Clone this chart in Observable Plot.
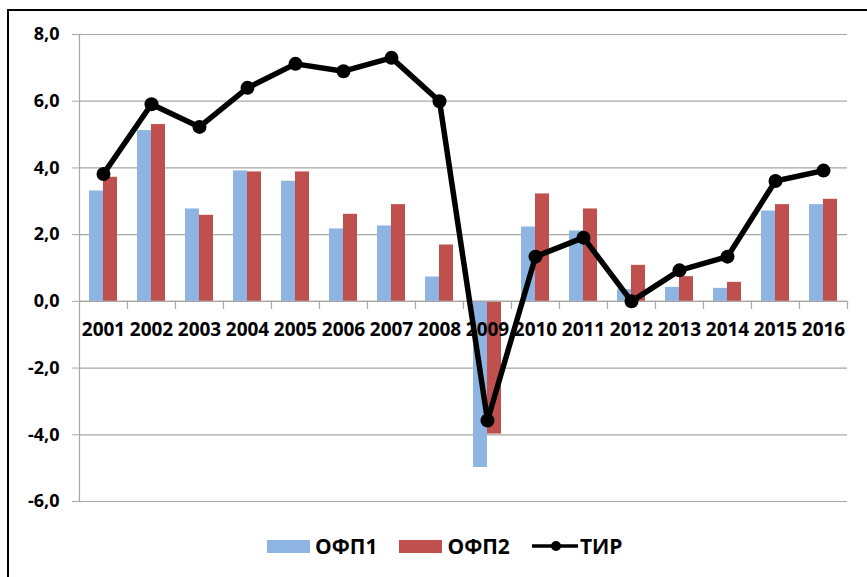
<!DOCTYPE html>
<html><head><meta charset="utf-8">
<script src="https://cdn.jsdelivr.net/npm/d3@7"></script>
<script src="https://cdn.jsdelivr.net/npm/@observablehq/plot@0.6"></script>
<style>
body{margin:0;background:#fff;}
#wrap{position:relative;width:867px;height:577px;overflow:hidden;font-family:"Open Sans",sans-serif;background:#fff;}
#border{position:absolute;left:7px;top:9px;width:880px;height:600px;border-left:2.5px solid #000;border-top:2.5px solid #000;pointer-events:none;}
#chart{position:absolute;left:0;top:0;}
#legend{position:absolute;left:267px;top:532px;display:flex;align-items:center;font-size:21px;font-weight:700;color:#000;}
.item{display:flex;align-items:center;margin-right:22px;}
.sw{width:43px;height:13px;margin-right:5px;}
</style></head>
<body><div id="wrap"><div id="chart"></div><div id="legend"></div><div id="border"></div></div>
<script>
const years = ["2001","2002","2003","2004","2005","2006","2007","2008","2009","2010","2011","2012","2013","2014","2015","2016"];
const ofp1 = [3.31, 5.12, 2.77, 3.91, 3.60, 2.17, 2.26, 0.73, -4.98, 2.23, 2.11, 0.35, 0.42, 0.39, 2.71, 2.90];
const ofp2 = [3.72, 5.30, 2.58, 3.88, 3.88, 2.61, 2.90, 1.69, -3.98, 3.22, 2.77, 1.08, 0.74, 0.57, 2.90, 3.06];
const tir  = [3.82, 5.91, 5.23, 6.40, 7.12, 6.90, 7.30, 6.00, -3.57, 1.34, 1.91, 0.00, 0.93, 1.34, 3.61, 3.92];
const yTicks = [-6, -4, -2, 0, 2, 4, 6, 8];
const seriesNames = ["ОФП1", "ОФП2", "ТИР"];
const colors = ["#8db4e2", "#c0504d", "#000000"];

const data = years.map((y, i) => ({year: y, ofp1: ofp1[i], ofp2: ofp2[i], tir: tir[i]}));
const grid = "#a6a6a6";
const W = 867, ML = 79, MR = 20;
const half = (W - ML - MR) / years.length / 2;
const tickShape = {draw(ctx, l) { ctx.moveTo(0, 0); ctx.lineTo(0, -l); }};

const chart = Plot.plot({
  width: W,
  height: 520,
  marginLeft: ML,
  marginRight: MR,
  marginTop: 34,
  marginBottom: 19,
  style: {fontFamily: "'Open Sans', sans-serif", background: "transparent"},
  x: {type: "band", domain: years, padding: 0, axis: null},
  y: {domain: [-6, 8], axis: null},
  marks: [
    Plot.gridY(yTicks, {stroke: grid, strokeOpacity: 1, strokeWidth: 1.2}),
    Plot.axisY(yTicks, {tickSize: 7, tickPadding: 13, stroke: grid, fill: "#000", fontSize: 18, fontWeight: "bold",
      tickFormat: d => d.toFixed(1).replace(".", ",")}),
    Plot.ruleX([years[0]], {x: d => d, dx: -half, y1: yTicks[0], y2: yTicks[yTicks.length - 1], stroke: grid, strokeWidth: 1.2}),
    Plot.barY(data, {x: "year", y: "ofp1", fill: colors[0], insetLeft: 10, insetRight: 24}),
    Plot.barY(data, {x: "year", y: "ofp2", fill: colors[1], insetLeft: 24, insetRight: 10}),
    Plot.ruleY([0], {stroke: grid, strokeWidth: 1.2}),
    Plot.vector(years.slice(1), {x: d => d, y: 0, dx: -half, length: 7, rotate: 180, anchor: "start", stroke: grid, strokeWidth: 1.2, shape: tickShape}),
    Plot.vector([years[years.length - 1]], {x: d => d, y: 0, dx: half, length: 7, rotate: 180, anchor: "start", stroke: grid, strokeWidth: 1.2, shape: tickShape}),
    Plot.text(data, {x: "year", y: 0, dy: 29, text: "year", fontSize: 19, fontWeight: "bold", fill: "#000", letterSpacing: 0.5}),
    Plot.line(data, {x: "year", y: "tir", stroke: colors[2], strokeWidth: 5.5, strokeLinejoin: "round"}),
    Plot.dot(data, {x: "year", y: "tir", r: 7, fill: colors[2], stroke: "none"})
  ]
});
document.getElementById("chart").appendChild(chart);

const legend = document.getElementById("legend");
seriesNames.forEach((name, i) => {
  const item = document.createElement("div");
  item.className = "item";
  if (i < 2) {
    item.innerHTML = `<div class="sw" style="background:${colors[i]}"></div><span>${name}</span>`;
  } else {
    item.innerHTML = `<svg width="46" height="16" style="margin-right:2px"><line x1="0" y1="8" x2="46" y2="8" stroke="${colors[i]}" stroke-width="3.5"/><circle cx="24" cy="8" r="5" fill="${colors[i]}"/></svg><span>${name}</span>`;
  }
  legend.appendChild(item);
});
</script>
</body></html>
